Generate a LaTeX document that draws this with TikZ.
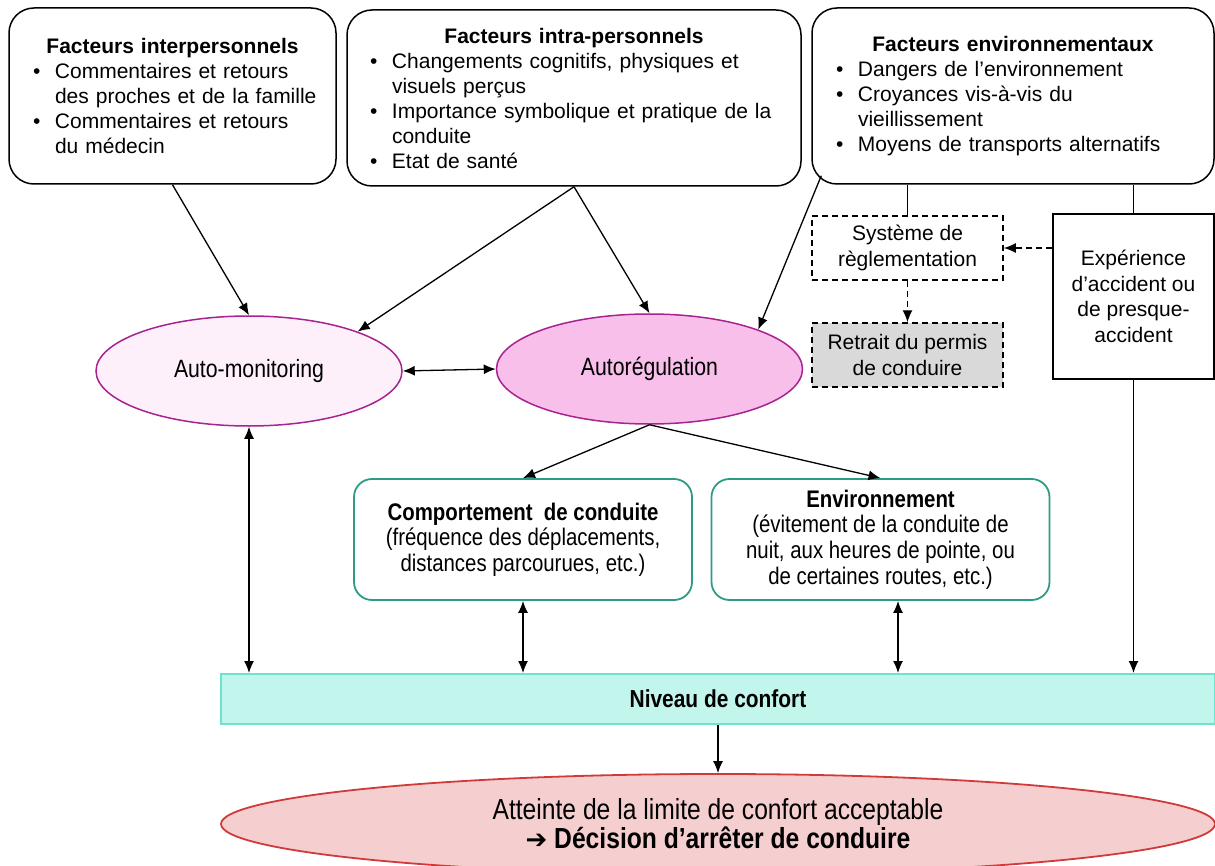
\documentclass[tikz,border=0pt]{standalone}
\usepackage{fontspec}
\setmainfont{Liberation Sans}
\newfontfamily\etroit[FakeStretch=0.85]{Liberation Sans}
\newfontfamily\symb{DejaVu Sans}
\usetikzlibrary{shapes.geometric}
\usetikzlibrary{arrows.meta}

\definecolor{rosepale}{HTML}{FDF0FB}
\definecolor{rosefort}{HTML}{F9BFEB}
\definecolor{violet}{HTML}{A8238F}
\definecolor{sarcelle}{HTML}{2E9C84}
\definecolor{menthe}{HTML}{C2F5EC}
\definecolor{menthebord}{HTML}{6BE3CF}
\definecolor{saumon}{HTML}{F5CFCF}
\definecolor{rouge}{HTML}{D03A3A}
\definecolor{grisclair}{HTML}{D9D9D9}

\newcommand{\titre}[1]{{\centering\bfseries #1\par}}
\newcommand{\puce}[1]{\par\raggedright\hangindent=11pt\hangafter=1\noindent\makebox[11pt][l]{\textbullet}#1\par}

\begin{document}
\begin{tikzpicture}[x=0.5pt,y=-0.5pt,
  facteur/.style={draw,line width=0.75pt,rounded corners=12.5pt,minimum height=88pt,
    font=\fontsize{10.5}{12.5}\selectfont,inner ysep=0pt},
  cadre/.style={draw,line width=0.75pt,align=center,inner sep=0pt,
    font=\fontsize{10.5}{12.8}\selectfont},
  tirets/.style={dash pattern=on 3pt off 2pt},
  bulle/.style={ellipse,draw=violet,line width=0.75pt,minimum width=153pt,minimum height=55pt,
    inner sep=0pt,font=\etroit\fontsize{12.5}{14}\selectfont},
  strategie/.style={draw=sarcelle,line width=0.9pt,rounded corners=9pt,align=center,
    minimum width=169pt,minimum height=60.5pt,inner sep=0pt,font=\etroit\fontsize{12}{12.8}\selectfont},
  fleche/.style={line width=0.65pt,-{Latex[length=6pt,width=5pt]}},
  double/.style={line width=0.65pt,{Latex[length=6pt,width=5pt]}-{Latex[length=6pt,width=5pt]}}]
 \useasboundingbox (0,0) rectangle (1215,866);

 % facteurs du haut
 \node[facteur,text width=139.5pt,inner xsep=12pt] (inter) at (172.5,96)
  {\titre{Facteurs interpersonnels}
   \puce{Commentaires et retours\newline \mbox{des proches et de la famille}}
   \puce{Commentaires et retours\newline du médecin}};
 \node[facteur,text width=204pt,inner xsep=11.5pt] (intra) at (574,98)
  {\titre{Facteurs intra-personnels}
   \puce{Changements cognitifs, physiques et\newline visuels perçus}
   \puce{\mbox{Importance symbolique et pratique de la}\newline conduite}
   \puce{Etat de santé}};
 \node[facteur,text width=177pt,inner xsep=12pt] (envf) at (1013,96)
  {\titre{Facteurs environnementaux}
   \puce{Dangers de l’environnement}
   \puce{Croyances vis-à-vis du\newline vieillissement}
   \puce{Moyens de transports alternatifs}};

 % cadres de droite
 \node[cadre,tirets,minimum width=95.5pt,minimum height=32pt] (systeme) at (907.5,248)
  {Système de\\règlementation};
 \node[cadre,tirets,fill=grisclair,minimum width=95.5pt,minimum height=32pt] (retrait) at (907.5,355)
  {Retrait du permis\\de conduire};
 \node[cadre,minimum width=80.5pt,minimum height=82.5pt] (experience) at (1133.5,296.5)
  {Expérience\\d’accident ou\\de presque-\\accident};

 % ellipses
 \node[bulle,fill=rosepale] (automon) at (249,371) {Auto-monitoring};
 \node[bulle,fill=rosefort] (autoreg) at (649.5,369) {Autorégulation};

 % strategies
 \node[strategie] (comport) at (523,539.5)
  {{\bfseries Comportement~ de conduite}\\(fréquence des déplacements,\\distances parcourues, etc.)};
 \node[strategie] (envir) at (880.5,539.5)
  {{\bfseries Environnement}\\(évitement de la conduite de\\nuit, aux heures de pointe, ou\\de certaines routes, etc.)};

 % bas
 \node[draw=menthebord,fill=menthe,line width=1pt,minimum width=497pt,minimum height=25pt,
  inner sep=0pt,font=\etroit\bfseries\fontsize{12.3}{14}\selectfont] (niveau) at (718,699) {Niveau de confort};
 \node[ellipse,draw=rouge,fill=saumon,line width=0.9pt,minimum width=497pt,minimum height=50pt,
  inner sep=0pt,align=center,font=\etroit\fontsize{14.5}{14.5}\selectfont] (bilan) at (718,824)
  {Atteinte de la limite de confort acceptable\\{\symb\bfseries\fontsize{13}{13}\selectfont ➔} \textbf{Décision d’arrêter de conduire}};

 % liens
 \draw[fleche] (inter.south) -- (automon.north);
 \draw[fleche] (intra.south) -- (automon.north east);
 \draw[fleche] (intra.south) -- (autoreg.north);
 \draw[fleche] ([xshift=5pt,yshift=4.5pt]envf.south west) -- (autoreg.north east);
 \draw[double] (automon.east) -- (autoreg.west);
 \draw[fleche] (autoreg.south) -- (comport.north);
 \draw[fleche] (autoreg.south) -- (envir.north);
 \draw[line width=0.65pt] (systeme.north |- envf.south) -- (systeme.north);
 \draw[line width=0.65pt] (experience.north |- envf.south) -- (experience.north);
 \draw[fleche,tirets] (experience.west |- systeme.east) -- (systeme.east);
 \draw[fleche,tirets] (systeme.south) -- (retrait.north);
 \draw[double] (automon.south) -- (automon.south |- niveau.north);
 \draw[double] (comport.south) -- (comport.south |- niveau.north);
 \draw[double] ([xshift=8.75pt]envir.south) -- ([xshift=8.75pt]envir.south |- niveau.north);
 \draw[fleche] (experience.south) -- (experience.south |- niveau.north);
 \draw[fleche] (niveau.south) -- (bilan.north);
\end{tikzpicture}
\end{document}
